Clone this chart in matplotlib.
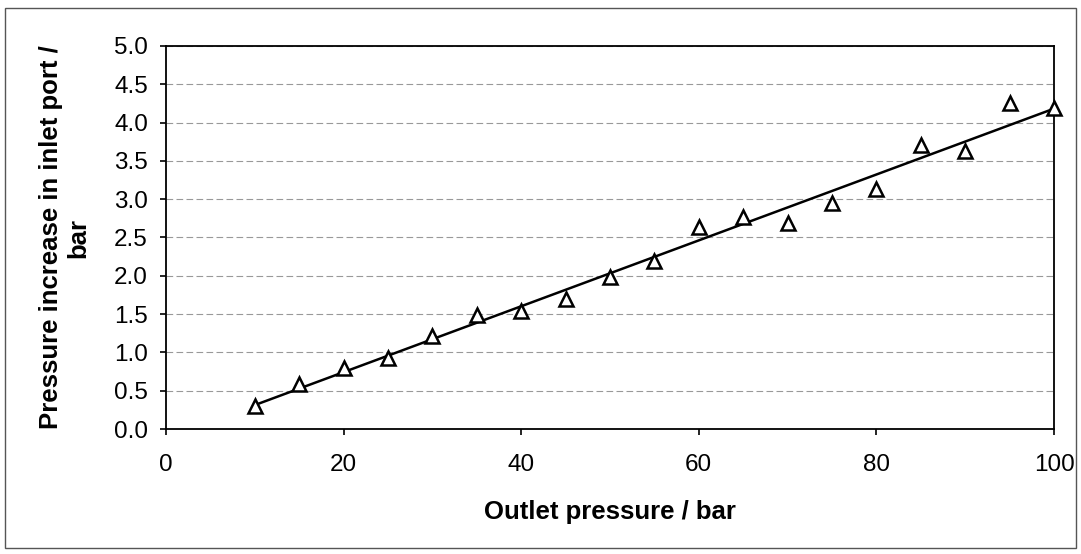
import matplotlib
matplotlib.use('Agg')
import matplotlib.pyplot as plt
import numpy as np
from matplotlib.patches import Rectangle

## font like Arial
plt.rcParams['font.family'] = 'Liberation Sans'
plt.rcParams['font.size'] = 17.5

## data
outlet_pressure = [10, 15, 20, 25, 30, 35, 40, 45, 50, 55,
                   60, 65, 70, 75, 80, 85, 90, 95, 100]
inlet_increase = [0.30, 0.59, 0.80, 0.93, 1.21, 1.49, 1.54, 1.70, 1.98, 2.19,
                  2.64, 2.77, 2.69, 2.95, 3.13, 3.71, 3.63, 4.26, 4.19]

x_ticks = [0, 20, 40, 60, 80, 100]
y_ticks = [0.0, 0.5, 1.0, 1.5, 2.0, 2.5, 3.0, 3.5, 4.0, 4.5, 5.0]

fig = plt.figure(figsize=(10.81, 5.54), dpi=100)
ax = fig.add_axes([166/1081, 1 - 429/554, (1054-166)/1081, (429-46)/554])

## linear trend line
x = np.array(outlet_pressure)
y = np.array(inlet_increase)
slope, icpt = np.polyfit(x, y, 1)
xf = np.array([x.min(), x.max()])
ax.plot(xf, slope*xf + icpt, color='black', lw=1.8, zorder=3)

## markers
ax.plot(x, y, linestyle='none', marker='^', markersize=10,
        markerfacecolor='white', markeredgecolor='black',
        markeredgewidth=1.8, zorder=4, clip_on=False)

ax.set_xlim(0, 100)
ax.set_ylim(0, 5)
ax.set_xticks(x_ticks)
ax.set_yticks(y_ticks)
ax.set_yticklabels(['%.1f' % v for v in y_ticks])

ax.yaxis.grid(True, color='#999999', linestyle=(0, (6, 3)), linewidth=0.8)
ax.set_axisbelow(True)

for s in ax.spines.values():
    s.set_linewidth(1.3)
ax.tick_params(direction='out', length=4, width=1.2, labelsize=17.5)
ax.tick_params(axis='y', pad=9)
ax.tick_params(axis='x', pad=14)

ax.set_xlabel('Outlet pressure / bar', fontweight='bold', fontsize=18.5, labelpad=17)
ax.set_ylabel('Pressure increase in inlet port /\nbar', fontweight='bold',
              fontsize=18.5, labelpad=17, linespacing=1.15)

## border around the whole chart
fig.patches.append(Rectangle((5/1081, 1 - 548/554), (1076-5)/1081, (548-8)/554,
                             transform=fig.transFigure, fill=False,
                             edgecolor='#555555', linewidth=1.0))

fig.savefig('out.png', dpi=100)
